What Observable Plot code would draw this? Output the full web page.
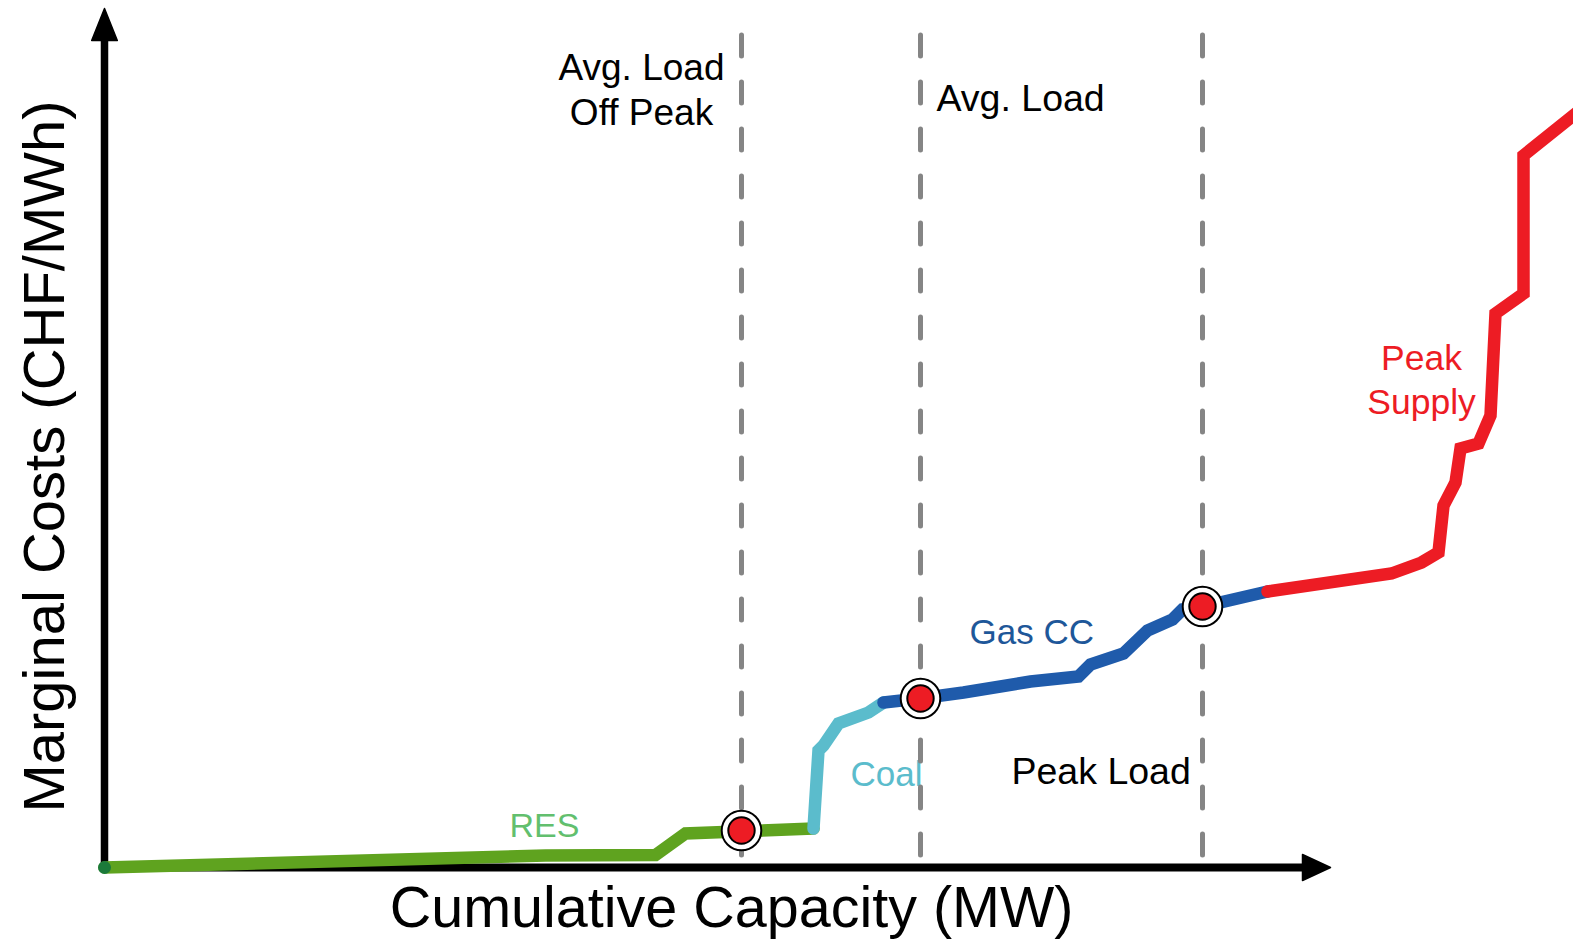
<!DOCTYPE html>
<html><head><meta charset="utf-8">
<script src="https://cdn.jsdelivr.net/npm/d3@7"></script>
<script src="https://cdn.jsdelivr.net/npm/@observablehq/plot@0.6"></script>
<style>html,body{margin:0;padding:0;background:#fff;overflow:hidden}</style>
</head><body><div id="chart"></div>
<script>
// Merit-order (supply) curve, schematic units
const resCapacity  = [0, 441, 551, 581, 709];
const resCost      = [0, 12, 12.5, 34, 39];
const coalCapacity = [709, 714, 719, 734, 764, 779];
const coalCost     = [39, 117, 122, 144, 155, 165];
const gasCapacity  = [779, 815, 859, 926, 974, 986, 1019, 1043, 1068, 1078, 1098, 1163];
const gasCost      = [165, 169, 175, 186, 191, 203, 214, 237, 248, 258, 261, 276];
const peakCapacity = [1163, 1287, 1317, 1334, 1339, 1351, 1356, 1374, 1386, 1391, 1419, 1419, 1475];
const peakCost     = [276, 294, 305, 315, 362, 385, 419, 424, 452, 554, 574, 712, 757];
const loadCapacity = [637, 816, 1098];
const clearingPrice = [37, 169, 261];
const loadLabels = ["Avg. Load\nOff Peak", "Avg. Load", "Peak Load"];
const techLabels = ["RES", "Coal", "Gas CC", "Peak\nSupply"];
const xTitle = "Cumulative Capacity (MW)";
const yTitle = "Marginal Costs (CHF/MWh)";

const arrowUp = {draw(ctx) { ctx.moveTo(0, -32); ctx.lineTo(12.8, 0); ctx.lineTo(-12.8, 0); ctx.closePath(); }};
const arrowRight = {draw(ctx) { ctx.moveTo(28, 0); ctx.lineTo(0, -13); ctx.lineTo(0, 13); ctx.closePath(); }};

const FONT = "'Liberation Sans', Arial, Helvetica, sans-serif";
const lineStyle = {strokeWidth: 12.5, strokeLinecap: "round", strokeLinejoin: "miter", strokeMiterlimit: 10};

const chart = Plot.plot({
  width: 1573,
  height: 939,
  margin: 0,
  x: {domain: [-104, 1469], axis: null},
  y: {domain: [-72, 867], axis: null},
  style: {fontFamily: FONT, background: "white", overflow: "visible"},
  marks: [
    // axes
    Plot.ruleX([0], {y1: -4, y2: 828, stroke: "black", strokeWidth: 7.5}),
    Plot.ruleY([0], {x1: -4, x2: 1199, stroke: "black", strokeWidth: 8}),
    Plot.dot([0], {x: 0, y: 827, symbol: arrowUp, fill: "black", stroke: "black", strokeWidth: 1.5, strokeLinejoin: "round"}),
    Plot.dot([0], {x: 1198, y: 0, symbol: arrowRight, fill: "black", stroke: "black", strokeWidth: 1.5, strokeLinejoin: "round"}),
    // axis titles
    Plot.text([xTitle], {x: 627, y: -59, text: d => d, fontSize: 57.5, textAnchor: "middle", lineAnchor: "bottom", fill: "black"}),
    Plot.text([yTitle], {x: -41, y: 411, text: d => d, fontSize: 58, rotate: -90, textAnchor: "middle", lineAnchor: "bottom", fill: "black"}),
    // load labels
    Plot.text([loadLabels[0]], {x: 537, y: 743, text: d => d, fontSize: 37, lineHeight: 1.19, textAnchor: "middle", lineAnchor: "bottom", fill: "black"}),
    Plot.text([loadLabels[1]], {x: 832, y: 757, text: d => d, fontSize: 37.5, textAnchor: "start", lineAnchor: "bottom", fill: "black"}),
    Plot.text([loadLabels[2]], {x: 907, y: 84, text: d => d, fontSize: 37.5, textAnchor: "start", lineAnchor: "bottom", fill: "black"}),
    // technology labels
    Plot.text([techLabels[0]], {x: 405, y: 31, text: d => d, fontSize: 34, textAnchor: "start", lineAnchor: "bottom", fill: "#62bf6e"}),
    Plot.text([techLabels[1]], {x: 746, y: 82, text: d => d, fontSize: 35, textAnchor: "start", lineAnchor: "bottom", fill: "#5bbccc"}),
    Plot.text([techLabels[2]], {x: 865, y: 224, text: d => d, fontSize: 35, textAnchor: "start", lineAnchor: "bottom", fill: "#1e5799"}),
    Plot.text([techLabels[3]], {x: 1317, y: 454, text: d => d, fontSize: 35.5, lineHeight: 1.22, textAnchor: "middle", lineAnchor: "bottom", fill: "#ed1c24"}),
    // load lines
    Plot.ruleX(loadCapacity, {x: d => d, y1: 832, y2: 0, stroke: "#858585", strokeWidth: 5, strokeDasharray: "21,26", strokeLinecap: "round"}),
    // supply curve
    Plot.line(resCapacity, {x: resCapacity, y: resCost, stroke: "#5fa31f", ...lineStyle}),
    Plot.line(coalCapacity, {x: coalCapacity, y: coalCost, stroke: "#5bbccc", ...lineStyle}),
    Plot.line(gasCapacity, {x: gasCapacity, y: gasCost, stroke: "#1f5bab", ...lineStyle}),
    Plot.line(peakCapacity, {x: peakCapacity, y: peakCost, stroke: "#ed1c24", ...lineStyle}),
    Plot.dot([0], {x: resCapacity[0], y: resCost[0], r: 6.5, fill: "#1b7a3a", stroke: "none"}),
    // clearing points
    Plot.dot(loadCapacity, {x: d => d, y: clearingPrice, r: 19.8, fill: "white", stroke: "black", strokeWidth: 2}),
    Plot.dot(loadCapacity, {x: d => d, y: clearingPrice, r: 13.2, fill: "#ed1c24", stroke: "black", strokeWidth: 2})
  ]
});
document.getElementById("chart").appendChild(chart);
</script>
</body></html>
